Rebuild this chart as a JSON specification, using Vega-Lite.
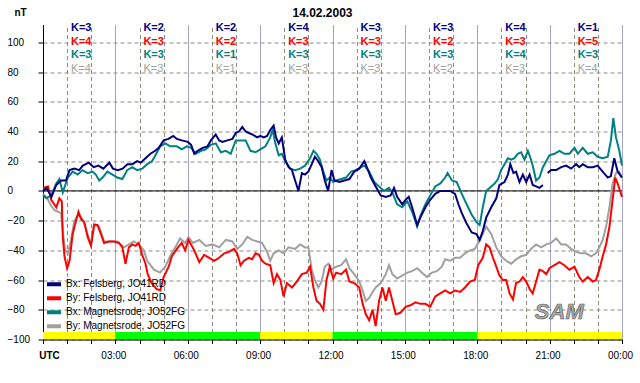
{
  "$schema": "https://vega.github.io/schema/vega-lite/v6.json",
  "width": 579,
  "height": 315,
  "autosize": {"type": "none"},
  "padding": {"left": 43, "top": 24.5, "right": 18, "bottom": 43.5},
  "background": "white",
  "config": {
    "font": "Liberation Sans",
    "view": {"stroke": null},
    "axis": {"labelFont": "Liberation Sans", "titleFont": "Liberation Sans"},
    "legend": {"labelFont": "Liberation Sans"}
  },
  "datasets": {
    "bands": [
      {"start": 0, "end": 3, "state": "Q"},
      {"start": 3, "end": 9, "state": "A"},
      {"start": 9, "end": 12, "state": "Q"},
      {"start": 12, "end": 18, "state": "A"},
      {"start": 18, "end": 24, "state": "Q"}
    ],
    "kidx": [
      {"start": 0, "s": "BxF", "label": "K=3"}, {"start": 0, "s": "ByF", "label": "K=4"}, {"start": 0, "s": "BxM", "label": "K=3"}, {"start": 0, "s": "ByM", "label": "K=4"},
      {"start": 3, "s": "BxF", "label": "K=2"}, {"start": 3, "s": "ByF", "label": "K=3"}, {"start": 3, "s": "BxM", "label": "K=3"}, {"start": 3, "s": "ByM", "label": "K=3"},
      {"start": 6, "s": "BxF", "label": "K=2"}, {"start": 6, "s": "ByF", "label": "K=2"}, {"start": 6, "s": "BxM", "label": "K=1"}, {"start": 6, "s": "ByM", "label": "K=1"},
      {"start": 9, "s": "BxF", "label": "K=4"}, {"start": 9, "s": "ByF", "label": "K=3"}, {"start": 9, "s": "BxM", "label": "K=3"}, {"start": 9, "s": "ByM", "label": "K=3"},
      {"start": 12, "s": "BxF", "label": "K=3"}, {"start": 12, "s": "ByF", "label": "K=3"}, {"start": 12, "s": "BxM", "label": "K=3"}, {"start": 12, "s": "ByM", "label": "K=3"},
      {"start": 15, "s": "BxF", "label": "K=3"}, {"start": 15, "s": "ByF", "label": "K=2"}, {"start": 15, "s": "BxM", "label": "K=3"}, {"start": 15, "s": "ByM", "label": "K=2"},
      {"start": 18, "s": "BxF", "label": "K=4"}, {"start": 18, "s": "ByF", "label": "K=3"}, {"start": 18, "s": "BxM", "label": "K=4"}, {"start": 18, "s": "ByM", "label": "K=3"},
      {"start": 21, "s": "BxF", "label": "K=1"}, {"start": 21, "s": "ByF", "label": "K=5"}, {"start": 21, "s": "BxM", "label": "K=3"}, {"start": 21, "s": "ByM", "label": "K=4"}
    ],
    "mag": [
      {"s":"ByM","h":0,"v":-2},{"s":"ByM","h":0.14,"v":-4},{"s":"ByM","h":0.34,"v":-10},{"s":"ByM","h":0.48,"v":-13},{"s":"ByM","h":0.62,"v":-14},{"s":"ByM","h":0.75,"v":-15},{"s":"ByM","h":0.82,"v":-27},{"s":"ByM","h":0.92,"v":-40},{"s":"ByM","h":1.03,"v":-42},{"s":"ByM","h":1.16,"v":-33},{"s":"ByM","h":1.3,"v":-20},{"s":"ByM","h":1.47,"v":-16},{"s":"ByM","h":1.64,"v":-19},{"s":"ByM","h":1.85,"v":-29},{"s":"ByM","h":1.99,"v":-36},{"s":"ByM","h":2.12,"v":-22},{"s":"ByM","h":2.33,"v":-24},{"s":"ByM","h":2.53,"v":-34},{"s":"ByM","h":2.81,"v":-34},{"s":"ByM","h":3.08,"v":-34},{"s":"ByM","h":3.36,"v":-38},{"s":"ByM","h":3.56,"v":-36},{"s":"ByM","h":3.77,"v":-34},{"s":"ByM","h":3.97,"v":-36},{"s":"ByM","h":4.18,"v":-40},{"s":"ByM","h":4.32,"v":-47},{"s":"ByM","h":4.6,"v":-53},{"s":"ByM","h":4.85,"v":-55},{"s":"ByM","h":5.07,"v":-51},{"s":"ByM","h":5.27,"v":-44},{"s":"ByM","h":5.55,"v":-36},{"s":"ByM","h":5.68,"v":-32},{"s":"ByM","h":5.89,"v":-35},{"s":"ByM","h":6.03,"v":-31},{"s":"ByM","h":6.21,"v":-35},{"s":"ByM","h":6.48,"v":-33},{"s":"ByM","h":6.75,"v":-37},{"s":"ByM","h":7.03,"v":-36},{"s":"ByM","h":7.3,"v":-38},{"s":"ByM","h":7.58,"v":-33},{"s":"ByM","h":7.85,"v":-34},{"s":"ByM","h":8.05,"v":-39},{"s":"ByM","h":8.26,"v":-36},{"s":"ByM","h":8.47,"v":-31},{"s":"ByM","h":8.67,"v":-33},{"s":"ByM","h":8.88,"v":-34},{"s":"ByM","h":9.08,"v":-35},{"s":"ByM","h":9.29,"v":-41},{"s":"ByM","h":9.42,"v":-47},{"s":"ByM","h":9.56,"v":-42},{"s":"ByM","h":9.77,"v":-40},{"s":"ByM","h":9.97,"v":-42},{"s":"ByM","h":10.18,"v":-38},{"s":"ByM","h":10.45,"v":-39},{"s":"ByM","h":10.66,"v":-36},{"s":"ByM","h":10.86,"v":-38},{"s":"ByM","h":11.0,"v":-38},{"s":"ByM","h":11.14,"v":-53},{"s":"ByM","h":11.27,"v":-60},{"s":"ByM","h":11.41,"v":-65},{"s":"ByM","h":11.55,"v":-61},{"s":"ByM","h":11.68,"v":-51},{"s":"ByM","h":11.82,"v":-49},{"s":"ByM","h":11.96,"v":-53},{"s":"ByM","h":12.15,"v":-51},{"s":"ByM","h":12.36,"v":-50},{"s":"ByM","h":12.56,"v":-46},{"s":"ByM","h":12.7,"v":-52},{"s":"ByM","h":12.9,"v":-56},{"s":"ByM","h":13.11,"v":-61},{"s":"ByM","h":13.25,"v":-67},{"s":"ByM","h":13.38,"v":-74},{"s":"ByM","h":13.52,"v":-72},{"s":"ByM","h":13.66,"v":-68},{"s":"ByM","h":13.79,"v":-65},{"s":"ByM","h":14.0,"v":-62},{"s":"ByM","h":14.21,"v":-56},{"s":"ByM","h":14.34,"v":-50},{"s":"ByM","h":14.48,"v":-56},{"s":"ByM","h":14.68,"v":-59},{"s":"ByM","h":14.89,"v":-57},{"s":"ByM","h":15.1,"v":-55},{"s":"ByM","h":15.3,"v":-54},{"s":"ByM","h":15.51,"v":-52},{"s":"ByM","h":15.71,"v":-55},{"s":"ByM","h":15.92,"v":-58},{"s":"ByM","h":16.12,"v":-55},{"s":"ByM","h":16.33,"v":-54},{"s":"ByM","h":16.53,"v":-51},{"s":"ByM","h":16.67,"v":-46},{"s":"ByM","h":16.88,"v":-47},{"s":"ByM","h":17.08,"v":-45},{"s":"ByM","h":17.29,"v":-45},{"s":"ByM","h":17.49,"v":-42},{"s":"ByM","h":17.7,"v":-40},{"s":"ByM","h":17.9,"v":-39},{"s":"ByM","h":18.04,"v":-35},{"s":"ByM","h":18.23,"v":-29},{"s":"ByM","h":18.37,"v":-24},{"s":"ByM","h":18.58,"v":-29},{"s":"ByM","h":18.79,"v":-38},{"s":"ByM","h":18.99,"v":-44},{"s":"ByM","h":19.2,"v":-47},{"s":"ByM","h":19.41,"v":-49},{"s":"ByM","h":19.61,"v":-46},{"s":"ByM","h":19.82,"v":-44},{"s":"ByM","h":20.03,"v":-43},{"s":"ByM","h":20.23,"v":-39},{"s":"ByM","h":20.44,"v":-36},{"s":"ByM","h":20.65,"v":-38},{"s":"ByM","h":20.86,"v":-36},{"s":"ByM","h":21.06,"v":-35},{"s":"ByM","h":21.27,"v":-32},{"s":"ByM","h":21.48,"v":-36},{"s":"ByM","h":21.68,"v":-36},{"s":"ByM","h":21.89,"v":-39},{"s":"ByM","h":22.1,"v":-41},{"s":"ByM","h":22.3,"v":-42},{"s":"ByM","h":22.51,"v":-42},{"s":"ByM","h":22.72,"v":-44},{"s":"ByM","h":22.92,"v":-42},{"s":"ByM","h":23.06,"v":-38},{"s":"ByM","h":23.2,"v":-33},{"s":"ByM","h":23.34,"v":-24},{"s":"ByM","h":23.48,"v":-11},{"s":"ByM","h":23.61,"v":5},{"s":"ByM","h":23.75,"v":12},{"s":"ByM","h":23.89,"v":13},{"s":"ByM","h":24.0,"v":9},
      {"s":"ByF","h":0,"v":2},{"s":"ByF","h":0.21,"v":3},{"s":"ByF","h":0.34,"v":-6},{"s":"ByF","h":0.55,"v":-11},{"s":"ByF","h":0.68,"v":-5},{"s":"ByF","h":0.78,"v":-7},{"s":"ByF","h":0.82,"v":-31},{"s":"ByF","h":0.89,"v":-44},{"s":"ByF","h":1.0,"v":-52},{"s":"ByF","h":1.1,"v":-47},{"s":"ByF","h":1.23,"v":-29},{"s":"ByF","h":1.37,"v":-20},{"s":"ByF","h":1.47,"v":-14},{"s":"ByF","h":1.58,"v":-19},{"s":"ByF","h":1.71,"v":-21},{"s":"ByF","h":1.85,"v":-31},{"s":"ByF","h":1.99,"v":-37},{"s":"ByF","h":2.12,"v":-23},{"s":"ByF","h":2.26,"v":-23},{"s":"ByF","h":2.4,"v":-29},{"s":"ByF","h":2.53,"v":-35},{"s":"ByF","h":2.74,"v":-34},{"s":"ByF","h":2.95,"v":-34},{"s":"ByF","h":3.15,"v":-35},{"s":"ByF","h":3.29,"v":-38},{"s":"ByF","h":3.42,"v":-49},{"s":"ByF","h":3.56,"v":-38},{"s":"ByF","h":3.7,"v":-36},{"s":"ByF","h":3.84,"v":-37},{"s":"ByF","h":3.97,"v":-35},{"s":"ByF","h":4.11,"v":-43},{"s":"ByF","h":4.25,"v":-49},{"s":"ByF","h":4.34,"v":-56},{"s":"ByF","h":4.5,"v":-62},{"s":"ByF","h":4.7,"v":-66},{"s":"ByF","h":4.86,"v":-67},{"s":"ByF","h":5.0,"v":-58},{"s":"ByF","h":5.21,"v":-51},{"s":"ByF","h":5.34,"v":-44},{"s":"ByF","h":5.55,"v":-39},{"s":"ByF","h":5.75,"v":-35},{"s":"ByF","h":5.89,"v":-40},{"s":"ByF","h":6.03,"v":-33},{"s":"ByF","h":6.27,"v":-40},{"s":"ByF","h":6.48,"v":-48},{"s":"ByF","h":6.68,"v":-43},{"s":"ByF","h":6.89,"v":-45},{"s":"ByF","h":7.1,"v":-47},{"s":"ByF","h":7.3,"v":-45},{"s":"ByF","h":7.51,"v":-42},{"s":"ByF","h":7.71,"v":-41},{"s":"ByF","h":7.92,"v":-39},{"s":"ByF","h":8.05,"v":-42},{"s":"ByF","h":8.19,"v":-50},{"s":"ByF","h":8.33,"v":-47},{"s":"ByF","h":8.53,"v":-45},{"s":"ByF","h":8.67,"v":-46},{"s":"ByF","h":8.81,"v":-42},{"s":"ByF","h":8.95,"v":-43},{"s":"ByF","h":9.08,"v":-47},{"s":"ByF","h":9.22,"v":-49},{"s":"ByF","h":9.42,"v":-50},{"s":"ByF","h":9.56,"v":-62},{"s":"ByF","h":9.7,"v":-56},{"s":"ByF","h":9.84,"v":-60},{"s":"ByF","h":9.97,"v":-71},{"s":"ByF","h":10.11,"v":-62},{"s":"ByF","h":10.32,"v":-65},{"s":"ByF","h":10.52,"v":-61},{"s":"ByF","h":10.73,"v":-56},{"s":"ByF","h":10.93,"v":-55},{"s":"ByF","h":11.07,"v":-51},{"s":"ByF","h":11.21,"v":-65},{"s":"ByF","h":11.34,"v":-74},{"s":"ByF","h":11.48,"v":-76},{"s":"ByF","h":11.62,"v":-80},{"s":"ByF","h":11.75,"v":-60},{"s":"ByF","h":11.89,"v":-51},{"s":"ByF","h":12.03,"v":-59},{"s":"ByF","h":12.15,"v":-55},{"s":"ByF","h":12.36,"v":-56},{"s":"ByF","h":12.56,"v":-53},{"s":"ByF","h":12.7,"v":-61},{"s":"ByF","h":12.9,"v":-62},{"s":"ByF","h":13.11,"v":-65},{"s":"ByF","h":13.25,"v":-76},{"s":"ByF","h":13.38,"v":-83},{"s":"ByF","h":13.52,"v":-87},{"s":"ByF","h":13.66,"v":-80},{"s":"ByF","h":13.79,"v":-91},{"s":"ByF","h":13.93,"v":-74},{"s":"ByF","h":14.07,"v":-65},{"s":"ByF","h":14.21,"v":-74},{"s":"ByF","h":14.34,"v":-65},{"s":"ByF","h":14.48,"v":-74},{"s":"ByF","h":14.62,"v":-83},{"s":"ByF","h":14.82,"v":-82},{"s":"ByF","h":15.03,"v":-78},{"s":"ByF","h":15.23,"v":-77},{"s":"ByF","h":15.44,"v":-75},{"s":"ByF","h":15.64,"v":-76},{"s":"ByF","h":15.85,"v":-76},{"s":"ByF","h":16.05,"v":-78},{"s":"ByF","h":16.26,"v":-71},{"s":"ByF","h":16.47,"v":-69},{"s":"ByF","h":16.67,"v":-67},{"s":"ByF","h":16.88,"v":-69},{"s":"ByF","h":17.08,"v":-67},{"s":"ByF","h":17.29,"v":-68},{"s":"ByF","h":17.49,"v":-65},{"s":"ByF","h":17.7,"v":-61},{"s":"ByF","h":17.9,"v":-60},{"s":"ByF","h":18.04,"v":-50},{"s":"ByF","h":18.23,"v":-45},{"s":"ByF","h":18.37,"v":-36},{"s":"ByF","h":18.51,"v":-38},{"s":"ByF","h":18.65,"v":-45},{"s":"ByF","h":18.79,"v":-51},{"s":"ByF","h":18.92,"v":-57},{"s":"ByF","h":19.06,"v":-60},{"s":"ByF","h":19.2,"v":-60},{"s":"ByF","h":19.34,"v":-69},{"s":"ByF","h":19.48,"v":-73},{"s":"ByF","h":19.61,"v":-62},{"s":"ByF","h":19.75,"v":-61},{"s":"ByF","h":19.89,"v":-58},{"s":"ByF","h":20.03,"v":-61},{"s":"ByF","h":20.17,"v":-66},{"s":"ByF","h":20.3,"v":-69},{"s":"ByF","h":20.44,"v":-61},{"s":"ByF","h":20.58,"v":-53},{"s":"ByF","h":20.72,"v":-54},{"s":"ByF","h":20.86,"v":-56},{"s":"ByF","h":20.99,"v":-52},{"s":"ByF","h":21.2,"v":-50},{"s":"ByF","h":21.41,"v":-48},{"s":"ByF","h":21.61,"v":-50},{"s":"ByF","h":21.82,"v":-53},{"s":"ByF","h":22.03,"v":-51},{"s":"ByF","h":22.23,"v":-58},{"s":"ByF","h":22.37,"v":-61},{"s":"ByF","h":22.58,"v":-58},{"s":"ByF","h":22.79,"v":-61},{"s":"ByF","h":22.92,"v":-60},{"s":"ByF","h":23.06,"v":-53},{"s":"ByF","h":23.2,"v":-44},{"s":"ByF","h":23.34,"v":-36},{"s":"ByF","h":23.48,"v":-24},{"s":"ByF","h":23.61,"v":-6},{"s":"ByF","h":23.72,"v":9},{"s":"ByF","h":23.82,"v":5},{"s":"ByF","h":23.96,"v":-2},{"s":"ByF","h":24.0,"v":-4},
      {"s":"BxM","h":0,"v":-3},{"s":"BxM","h":0.14,"v":-5},{"s":"BxM","h":0.34,"v":-3},{"s":"BxM","h":0.55,"v":5},{"s":"BxM","h":0.68,"v":8},{"s":"BxM","h":0.82,"v":-1},{"s":"BxM","h":1.03,"v":9},{"s":"BxM","h":1.23,"v":13},{"s":"BxM","h":1.44,"v":11},{"s":"BxM","h":1.64,"v":14},{"s":"BxM","h":1.85,"v":12},{"s":"BxM","h":2.05,"v":13},{"s":"BxM","h":2.19,"v":11},{"s":"BxM","h":2.33,"v":7},{"s":"BxM","h":2.47,"v":9},{"s":"BxM","h":2.67,"v":13},{"s":"BxM","h":2.88,"v":11},{"s":"BxM","h":3.08,"v":9},{"s":"BxM","h":3.29,"v":8},{"s":"BxM","h":3.49,"v":14},{"s":"BxM","h":3.7,"v":16},{"s":"BxM","h":3.9,"v":14},{"s":"BxM","h":4.11,"v":15},{"s":"BxM","h":4.32,"v":18},{"s":"BxM","h":4.52,"v":20},{"s":"BxM","h":4.66,"v":24},{"s":"BxM","h":4.86,"v":30},{"s":"BxM","h":5.07,"v":32},{"s":"BxM","h":5.27,"v":30},{"s":"BxM","h":5.55,"v":30},{"s":"BxM","h":5.75,"v":28},{"s":"BxM","h":5.96,"v":30},{"s":"BxM","h":6.14,"v":29},{"s":"BxM","h":6.34,"v":25},{"s":"BxM","h":6.55,"v":27},{"s":"BxM","h":6.75,"v":28},{"s":"BxM","h":6.96,"v":31},{"s":"BxM","h":7.16,"v":32},{"s":"BxM","h":7.37,"v":26},{"s":"BxM","h":7.58,"v":27},{"s":"BxM","h":7.78,"v":25},{"s":"BxM","h":7.99,"v":34},{"s":"BxM","h":8.19,"v":34},{"s":"BxM","h":8.4,"v":34},{"s":"BxM","h":8.6,"v":27},{"s":"BxM","h":8.81,"v":26},{"s":"BxM","h":9.01,"v":28},{"s":"BxM","h":9.22,"v":30},{"s":"BxM","h":9.42,"v":36},{"s":"BxM","h":9.52,"v":41},{"s":"BxM","h":9.63,"v":32},{"s":"BxM","h":9.77,"v":24},{"s":"BxM","h":9.9,"v":25},{"s":"BxM","h":10.04,"v":20},{"s":"BxM","h":10.25,"v":15},{"s":"BxM","h":10.45,"v":14},{"s":"BxM","h":10.66,"v":15},{"s":"BxM","h":10.86,"v":17},{"s":"BxM","h":11.07,"v":22},{"s":"BxM","h":11.21,"v":27},{"s":"BxM","h":11.34,"v":25},{"s":"BxM","h":11.48,"v":21},{"s":"BxM","h":11.62,"v":13},{"s":"BxM","h":11.75,"v":7},{"s":"BxM","h":11.89,"v":9},{"s":"BxM","h":12.03,"v":6},{"s":"BxM","h":12.15,"v":7},{"s":"BxM","h":12.36,"v":8},{"s":"BxM","h":12.56,"v":9},{"s":"BxM","h":12.77,"v":13},{"s":"BxM","h":12.97,"v":14},{"s":"BxM","h":13.18,"v":16},{"s":"BxM","h":13.32,"v":17},{"s":"BxM","h":13.52,"v":13},{"s":"BxM","h":13.73,"v":6},{"s":"BxM","h":13.93,"v":3},{"s":"BxM","h":14.14,"v":0},{"s":"BxM","h":14.34,"v":2},{"s":"BxM","h":14.48,"v":-1},{"s":"BxM","h":14.68,"v":-9},{"s":"BxM","h":14.89,"v":-11},{"s":"BxM","h":15.1,"v":-7},{"s":"BxM","h":15.3,"v":-14},{"s":"BxM","h":15.51,"v":-24},{"s":"BxM","h":15.64,"v":-17},{"s":"BxM","h":15.85,"v":-9},{"s":"BxM","h":16.05,"v":-3},{"s":"BxM","h":16.26,"v":3},{"s":"BxM","h":16.47,"v":5},{"s":"BxM","h":16.67,"v":9},{"s":"BxM","h":16.77,"v":12},{"s":"BxM","h":16.95,"v":7},{"s":"BxM","h":17.15,"v":6},{"s":"BxM","h":17.36,"v":-2},{"s":"BxM","h":17.56,"v":-9},{"s":"BxM","h":17.77,"v":-16},{"s":"BxM","h":17.97,"v":-21},{"s":"BxM","h":18.1,"v":-23},{"s":"BxM","h":18.23,"v":-11},{"s":"BxM","h":18.37,"v":0},{"s":"BxM","h":18.58,"v":3},{"s":"BxM","h":18.72,"v":5},{"s":"BxM","h":18.86,"v":8},{"s":"BxM","h":18.99,"v":14},{"s":"BxM","h":19.13,"v":18},{"s":"BxM","h":19.27,"v":22},{"s":"BxM","h":19.41,"v":21},{"s":"BxM","h":19.54,"v":22},{"s":"BxM","h":19.68,"v":25},{"s":"BxM","h":19.82,"v":26},{"s":"BxM","h":19.96,"v":21},{"s":"BxM","h":20.1,"v":27},{"s":"BxM","h":20.23,"v":21},{"s":"BxM","h":20.3,"v":17},{"s":"BxM","h":20.44,"v":7},{"s":"BxM","h":20.58,"v":9},{"s":"BxM","h":20.72,"v":16},{"s":"BxM","h":20.86,"v":20},{"s":"BxM","h":20.99,"v":24},{"s":"BxM","h":21.2,"v":25},{"s":"BxM","h":21.41,"v":27},{"s":"BxM","h":21.61,"v":25},{"s":"BxM","h":21.82,"v":25},{"s":"BxM","h":22.03,"v":29},{"s":"BxM","h":22.17,"v":25},{"s":"BxM","h":22.37,"v":29},{"s":"BxM","h":22.58,"v":25},{"s":"BxM","h":22.79,"v":26},{"s":"BxM","h":22.99,"v":23},{"s":"BxM","h":23.2,"v":22},{"s":"BxM","h":23.41,"v":23},{"s":"BxM","h":23.54,"v":34},{"s":"BxM","h":23.64,"v":49},{"s":"BxM","h":23.75,"v":36},{"s":"BxM","h":23.89,"v":27},{"s":"BxM","h":24.0,"v":17},
      {"s":"BxF","h":0,"v":0},{"s":"BxF","h":0.15,"v":2},{"s":"BxF","h":0.35,"v":-4},{"s":"BxF","h":0.55,"v":4},{"s":"BxF","h":0.75,"v":7},{"s":"BxF","h":0.95,"v":7},{"s":"BxF","h":1.1,"v":14},{"s":"BxF","h":1.3,"v":15},{"s":"BxF","h":1.5,"v":14},{"s":"BxF","h":1.65,"v":17},{"s":"BxF","h":1.9,"v":19},{"s":"BxF","h":2.1,"v":16},{"s":"BxF","h":2.3,"v":17},{"s":"BxF","h":2.5,"v":15},{"s":"BxF","h":2.75,"v":19},{"s":"BxF","h":2.9,"v":15},{"s":"BxF","h":3.1,"v":14},{"s":"BxF","h":3.3,"v":15},{"s":"BxF","h":3.5,"v":18},{"s":"BxF","h":3.7,"v":18},{"s":"BxF","h":3.9,"v":20},{"s":"BxF","h":4.05,"v":19},{"s":"BxF","h":4.25,"v":22},{"s":"BxF","h":4.45,"v":25},{"s":"BxF","h":4.65,"v":27},{"s":"BxF","h":4.8,"v":29},{"s":"BxF","h":5.0,"v":34},{"s":"BxF","h":5.2,"v":35},{"s":"BxF","h":5.4,"v":37},{"s":"BxF","h":5.55,"v":35},{"s":"BxF","h":5.75,"v":34},{"s":"BxF","h":6.0,"v":33},{"s":"BxF","h":6.14,"v":31},{"s":"BxF","h":6.27,"v":25},{"s":"BxF","h":6.41,"v":27},{"s":"BxF","h":6.62,"v":29},{"s":"BxF","h":6.82,"v":30},{"s":"BxF","h":6.96,"v":34},{"s":"BxF","h":7.16,"v":38},{"s":"BxF","h":7.3,"v":34},{"s":"BxF","h":7.44,"v":33},{"s":"BxF","h":7.64,"v":34},{"s":"BxF","h":7.85,"v":35},{"s":"BxF","h":7.99,"v":39},{"s":"BxF","h":8.12,"v":40},{"s":"BxF","h":8.26,"v":43},{"s":"BxF","h":8.4,"v":40},{"s":"BxF","h":8.53,"v":39},{"s":"BxF","h":8.67,"v":38},{"s":"BxF","h":8.88,"v":36},{"s":"BxF","h":9.01,"v":37},{"s":"BxF","h":9.15,"v":36},{"s":"BxF","h":9.29,"v":37},{"s":"BxF","h":9.42,"v":41},{"s":"BxF","h":9.56,"v":44},{"s":"BxF","h":9.66,"v":36},{"s":"BxF","h":9.77,"v":32},{"s":"BxF","h":9.9,"v":36},{"s":"BxF","h":10.04,"v":21},{"s":"BxF","h":10.18,"v":16},{"s":"BxF","h":10.32,"v":14},{"s":"BxF","h":10.45,"v":7},{"s":"BxF","h":10.59,"v":0},{"s":"BxF","h":10.73,"v":12},{"s":"BxF","h":10.86,"v":11},{"s":"BxF","h":11.0,"v":13},{"s":"BxF","h":11.14,"v":18},{"s":"BxF","h":11.27,"v":23},{"s":"BxF","h":11.41,"v":20},{"s":"BxF","h":11.55,"v":16},{"s":"BxF","h":11.68,"v":7},{"s":"BxF","h":11.82,"v":0},{"s":"BxF","h":11.96,"v":14},{"s":"BxF","h":12.08,"v":7},{"s":"BxF","h":12.29,"v":6},{"s":"BxF","h":12.49,"v":7},{"s":"BxF","h":12.7,"v":8},{"s":"BxF","h":12.9,"v":13},{"s":"BxF","h":13.11,"v":15},{"s":"BxF","h":13.32,"v":20},{"s":"BxF","h":13.45,"v":15},{"s":"BxF","h":13.59,"v":9},{"s":"BxF","h":13.79,"v":3},{"s":"BxF","h":14.0,"v":-3},{"s":"BxF","h":14.21,"v":-4},{"s":"BxF","h":14.41,"v":-3},{"s":"BxF","h":14.55,"v":2},{"s":"BxF","h":14.68,"v":-4},{"s":"BxF","h":14.89,"v":-9},{"s":"BxF","h":15.03,"v":-6},{"s":"BxF","h":15.16,"v":-4},{"s":"BxF","h":15.3,"v":-11},{"s":"BxF","h":15.51,"v":-23},{"s":"BxF","h":15.64,"v":-18},{"s":"BxF","h":15.85,"v":-11},{"s":"BxF","h":16.05,"v":-6},{"s":"BxF","h":16.26,"v":-2},{"s":"BxF","h":16.47,"v":0},{"s":"BxF","h":16.67,"v":0},{"s":"BxF","h":16.88,"v":0},{"s":"BxF","h":17.08,"v":-2},{"s":"BxF","h":17.22,"v":-9},{"s":"BxF","h":17.36,"v":-15},{"s":"BxF","h":17.56,"v":-22},{"s":"BxF","h":17.77,"v":-28},{"s":"BxF","h":17.97,"v":-29},{"s":"BxF","h":18.1,"v":-33},{"s":"BxF","h":18.23,"v":-27},{"s":"BxF","h":18.37,"v":-18},{"s":"BxF","h":18.58,"v":-11},{"s":"BxF","h":18.79,"v":-5},{"s":"BxF","h":18.92,"v":4},{"s":"BxF","h":19.13,"v":6},{"s":"BxF","h":19.27,"v":11},{"s":"BxF","h":19.37,"v":18},{"s":"BxF","h":19.5,"v":12},{"s":"BxF","h":19.61,"v":13},{"s":"BxF","h":19.75,"v":6},{"s":"BxF","h":19.89,"v":11},{"s":"BxF","h":20.03,"v":6},{"s":"BxF","h":20.17,"v":11},{"s":"BxF","h":20.3,"v":4},{"s":"BxF","h":20.44,"v":3},{"s":"BxF","h":20.58,"v":2},{"s":"BxF","h":20.72,"v":4},{"s":"BxF","h":20.82,"v":null},{"s":"BxF","h":20.92,"v":12},{"s":"BxF","h":21.06,"v":14},{"s":"BxF","h":21.27,"v":14},{"s":"BxF","h":21.48,"v":16},{"s":"BxF","h":21.68,"v":17},{"s":"BxF","h":21.89,"v":15},{"s":"BxF","h":22.1,"v":18},{"s":"BxF","h":22.23,"v":16},{"s":"BxF","h":22.37,"v":18},{"s":"BxF","h":22.58,"v":16},{"s":"BxF","h":22.79,"v":16},{"s":"BxF","h":22.99,"v":17},{"s":"BxF","h":23.2,"v":13},{"s":"BxF","h":23.41,"v":9},{"s":"BxF","h":23.54,"v":10},{"s":"BxF","h":23.68,"v":22},{"s":"BxF","h":23.82,"v":13},{"s":"BxF","h":24.0,"v":9}
    ]
  },
  "resolve": {
    "scale": {"y": "independent"},
    "axis": {"x": "independent", "y": "independent"}
  },
  "layer": [
    {
      "data": {"name": "bands"},
      "mark": {"type": "rect"},
      "encoding": {
        "x": {
          "field": "start", "type": "quantitative",
          "scale": {"domain": [0, 24], "nice": false, "zero": false},
          "axis": {
            "orient": "bottom", "zindex": 1, "grid": false,
            "values": [0,1,2,3,4,5,6,7,8,9,10,11,12,13,14,15,16,17,18,19,20,21,22,23,24],
            "domain": true, "domainColor": "black", "domainWidth": 1,
            "ticks": true, "tickColor": "black", "tickSize": 4, "tickWidth": 1,
            "labelExpr": "datum.value == 0 ? 'UTC' : (datum.value % 3 != 0 ? '' : ((datum.value % 24 < 10 ? '0' : '') + (datum.value % 24) + ':00'))",
            "labelOverlap": false, "labelBound": false, "labelFlush": false,
            "labelFontSize": 10, "labelColor": "black", "labelPadding": 7,
            "labelFontWeight": {"condition": {"test": "datum.value == 0", "value": "bold"}, "value": "normal"},
            "labelOffset": {"condition": {"test": "datum.value == 0", "value": 6}, "value": -2},
            "title": null
          }
        },
        "x2": {"field": "end"},
        "y": {"datum": -100, "type": "quantitative", "scale": {"domain": [-100, 112], "nice": false, "zero": false}, "axis": null},
        "y2": {"datum": -95},
        "fill": {"field": "state", "type": "nominal", "scale": {"domain": ["Q", "A"], "range": ["#ffff00", "#00ff00"]}, "legend": null}
      }
    },
    {
      "data": {"values": [{}]},
      "mark": {"type": "rule", "color": "black", "strokeWidth": 1},
      "encoding": {
        "y": {"datum": 0, "type": "quantitative", "scale": {"domain": [-100, 112], "nice": false, "zero": false}, "axis": null}
      }
    },
    {
      "data": {"name": "mag"},
      "mark": {"type": "line", "strokeWidth": 2},
      "encoding": {
        "x": {
          "field": "h", "type": "quantitative",
          "scale": {"domain": [0, 24], "nice": false, "zero": false},
          "axis": {
            "orient": "top", "zindex": 0, "grid": true,
            "values": [1,2,3,4,5,6,7,8,9,10,11,12,13,14,15,16,17,18,19,20,21,22,23,24],
            "domain": false, "ticks": false, "labels": false,
            "gridColor": {"condition": {"test": "datum.value % 3 == 0", "value": "#a4a4c8"}, "value": "#8c8c80"},
            "gridDash": {"condition": {"test": "datum.value % 3 == 0", "value": []}, "value": [4, 3]},
            "gridWidth": 1,
            "title": "14.02.2003", "titleFontSize": 12, "titleFontWeight": "bold", "titleColor": "black",
            "titleX": 279, "titleY": -12, "titleAlign": "center", "titleBaseline": "middle", "titleAngle": 0
          }
        },
        "y": {
          "field": "v", "type": "quantitative",
          "scale": {"domain": [-100, 112], "nice": false, "zero": false},
          "axis": {
            "orient": "left",
            "values": [-100,-80,-60,-40,-20,0,20,40,60,80,100],
            "grid": true, "gridColor": "#8c8c80", "gridDash": [4, 3], "gridWidth": 1,
            "domain": true, "domainColor": "black", "domainWidth": 1,
            "ticks": true, "tickColor": "black", "tickSize": 5,
            "labelAlign": "left", "labelBaseline": "middle", "labelPadding": 31,
            "labelFontSize": 10, "labelColor": "black", "labelOverlap": false, "labelBound": false, "labelFlush": false,
            "title": "nT", "titleAngle": 0, "titleX": -23, "titleY": -12.5,
            "titleAlign": "center", "titleBaseline": "middle", "titleFontWeight": "bold", "titleFontSize": 10, "titleColor": "black"
          }
        },
        "color": {
          "field": "s", "type": "nominal",
          "scale": {"domain": ["BxF", "ByF", "BxM", "ByM"], "range": ["#000080", "#ff0000", "#008080", "#a0a0a0"]},
          "legend": {
            "orient": "none", "legendX": 4, "legendY": 253, "title": null,
            "symbolType": "M-1.4,0L1.4,0", "symbolStrokeWidth": 4, "symbolSize": 100,
            "labelFontSize": 10, "labelColor": "black", "labelOffset": 5, "rowPadding": 0, "padding": 0,
            "clipHeight": 13.7,
            "labelExpr": "datum.label == 'BxF' ? 'Bx: Felsberg, JO41RD' : datum.label == 'ByF' ? 'By: Felsberg, JO41RD' : datum.label == 'BxM' ? 'Bx: Magnetsrode, JO52FG' : 'By: Magnetsrode, JO52FG'"
          }
        }
      }
    },
    {
      "data": {"name": "kidx"},
      "transform": [{"filter": "datum.s != 'ByM'"}],
      "mark": {"type": "text", "align": "left", "baseline": "middle", "dx": 28, "fontSize": 11, "fontWeight": "bold"},
      "encoding": {
        "x": {"field": "start", "type": "quantitative", "scale": {"domain": [0, 24], "nice": false, "zero": false}, "axis": null},
        "y": {"field": "s", "type": "nominal", "scale": {"domain": ["BxF", "ByF", "BxM", "ByM"], "range": [3.5, 44.5], "padding": 0}, "axis": null},
        "color": {"field": "s", "type": "nominal", "scale": {"domain": ["BxF", "ByF", "BxM", "ByM"], "range": ["#000080", "#ff0000", "#008080", "#a0a0a0"]}, "legend": null},
        "text": {"field": "label"}
      }
    },
    {
      "data": {"name": "kidx"},
      "transform": [{"filter": "datum.s == 'ByM'"}],
      "mark": {"type": "text", "align": "left", "baseline": "middle", "dx": 28, "fontSize": 11, "fontWeight": "normal", "color": "#a0a0a0"},
      "encoding": {
        "x": {"field": "start", "type": "quantitative", "scale": {"domain": [0, 24], "nice": false, "zero": false}, "axis": null},
        "y": {"field": "s", "type": "nominal", "scale": {"domain": ["BxF", "ByF", "BxM", "ByM"], "range": [3.5, 44.5], "padding": 0}, "axis": null},
        "text": {"field": "label"}
      }
    },
    {
      "data": {"values": [{}]},
      "mark": {"type": "text", "text": "SAM", "fontSize": 22, "fontStyle": "italic", "fontWeight": "bold", "color": "#a8a8a8", "stroke": "#5a5a5a", "strokeWidth": 0.6, "align": "center", "baseline": "middle"},
      "encoding": {
        "x": {"datum": 21.4, "type": "quantitative", "scale": {"domain": [0, 24], "nice": false, "zero": false}, "axis": null},
        "y": {"datum": -81.5, "type": "quantitative", "scale": {"domain": [-100, 112], "nice": false, "zero": false}, "axis": null}
      }
    }
  ]
}
